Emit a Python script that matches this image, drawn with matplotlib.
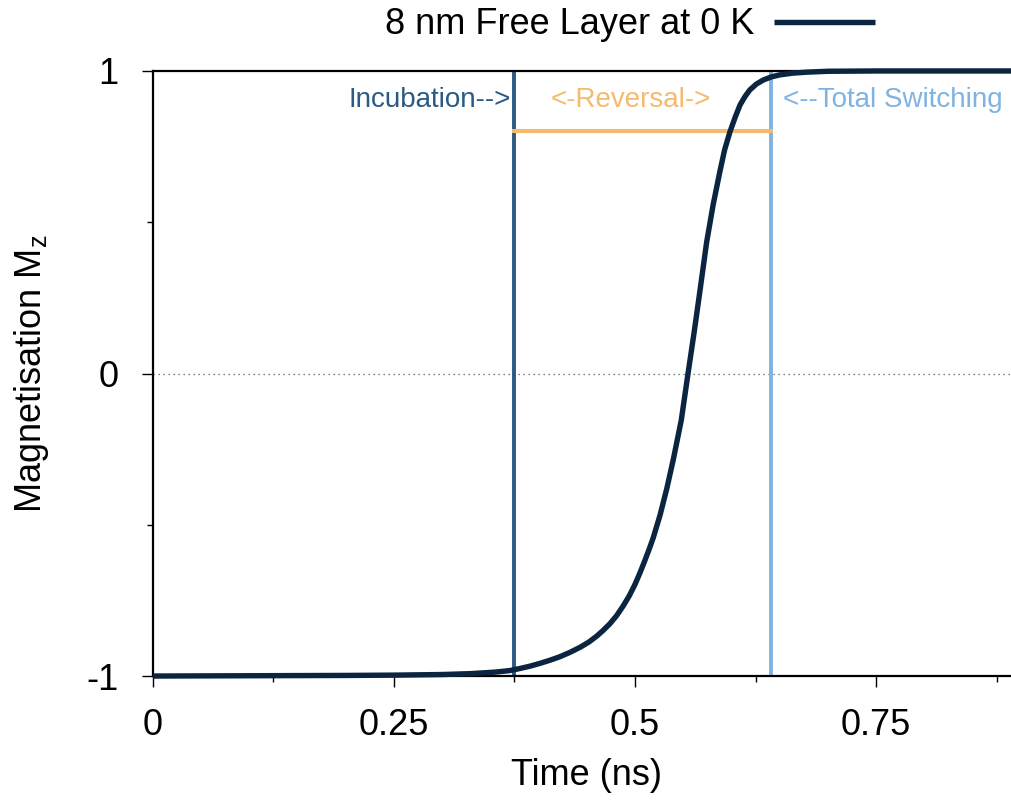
import matplotlib
matplotlib.use("Agg")
import matplotlib.pyplot as plt
from matplotlib.ticker import MultipleLocator

plt.rcParams['font.family'] = ['Liberation Sans', 'DejaVu Sans']
plt.rcParams['mathtext.fontset'] = 'custom'
plt.rcParams['mathtext.rm'] = 'Liberation Sans'

# switching curve (time in ns, Mz)
time_ns = [0.0, 0.1, 0.2, 0.25, 0.3, 0.33, 0.355, 0.37, 0.3807, 0.3915,
           0.4015, 0.412, 0.4222, 0.433, 0.443, 0.452, 0.4603, 0.467, 0.474, 0.481,
           0.488, 0.494, 0.500, 0.505, 0.510, 0.515, 0.519, 0.526, 0.533, 0.540,
           0.548, 0.555, 0.5615, 0.567, 0.5744, 0.581, 0.588, 0.593, 0.5985, 0.604,
           0.609, 0.614, 0.619, 0.626, 0.633, 0.641, 0.650, 0.664, 0.678, 0.70,
           0.75, 0.80, 0.89]
mz = [-1.0, -0.999, -0.998, -0.997, -0.995, -0.992, -0.987, -0.982, -0.975, -0.967,
      -0.958, -0.9475, -0.936, -0.921, -0.905, -0.888, -0.868, -0.849, -0.827, -0.800,
      -0.767, -0.735, -0.697, -0.660, -0.620, -0.578, -0.542, -0.468, -0.380, -0.28,
      -0.154, 0.0, 0.14, 0.265, 0.436, 0.557, 0.667, 0.74, 0.799, 0.848,
      0.888, 0.915, 0.937, 0.957, 0.970, 0.980, 0.987, 0.993, 0.996, 0.999,
      1.0, 1.0, 1.0]

t_incubation = 0.375
t_total = 0.641
reversal_level = 0.8

c_curve = '#0b2540'
c_incub = '#2b5a84'
c_rev = '#f4bb6e'
c_total = '#7fb3e1'

fig = plt.figure(figsize=(10.11, 8.01), dpi=100)
ax = fig.add_axes([0.1513, 0.156, 0.8487, 0.7554])

ax.axhline(0, color='#555555', lw=0.9, ls=(0, (1, 3)), zorder=1)
ax.axvline(t_incubation, color=c_incub, lw=2.8, zorder=2)
ax.axvline(t_total, color=c_total, lw=2.8, zorder=2)
ax.plot([t_incubation, t_total], [reversal_level, reversal_level], color=c_rev, lw=2.9, zorder=2)
line, = ax.plot(time_ns, mz, color=c_curve, lw=3.9, zorder=4, clip_on=False,
                solid_joinstyle='round', solid_capstyle='butt',
                label='8 nm Free Layer at 0 K')

ax.text(0.3715, 0.904, 'Incubation-->', color=c_incub, fontsize=20, ha='right', va='center')
ax.text(0.496, 0.904, '<-Reversal->', color=c_rev, fontsize=20, ha='center', va='center')
ax.text(0.6535, 0.904, '<--Total Switching', color=c_total, fontsize=20, ha='left', va='center')

ax.set_xlim(0, 0.89)
ax.set_ylim(-1, 1)
ax.xaxis.set_minor_locator(MultipleLocator(0.125))
ax.yaxis.set_minor_locator(MultipleLocator(0.5))
ax.set_xticks([0, 0.25, 0.5, 0.75])
ax.set_xticklabels(['0', '0.25', '0.5', '0.75'])
ax.set_yticks([-1, 0, 1])
ax.set_yticklabels(['-1', '0', '1'])

ax.tick_params(which='major', direction='out', length=8, width=1.0, labelsize=26)
ax.tick_params(axis='x', which='major', pad=15)
ax.tick_params(axis='y', which='major', pad=17)
ax.tick_params(which='minor', direction='out', length=4, width=1.0)

for side in ['left', 'bottom', 'top']:
    ax.spines[side].set_linewidth(1.6)
ax.spines['right'].set_visible(False)

ax.set_xlabel('Time (ns)', fontsize=26)
ax.xaxis.set_label_coords(0.505, -0.164)
ax.xaxis.label.set_va('center')
ax.set_ylabel('Magnetisation M$_\\mathregular{z}$', fontsize=26)
ax.yaxis.set_label_coords(-0.141, 0.5)
ax.yaxis.label.set_va('center')

fig.legend(handles=[line], loc='center', bbox_to_anchor=(0.623, 0.969),
           frameon=False, markerfirst=False, fontsize=26, handlelength=2.8,
           handletextpad=0.55)

fig.savefig('out.png', dpi=100)
